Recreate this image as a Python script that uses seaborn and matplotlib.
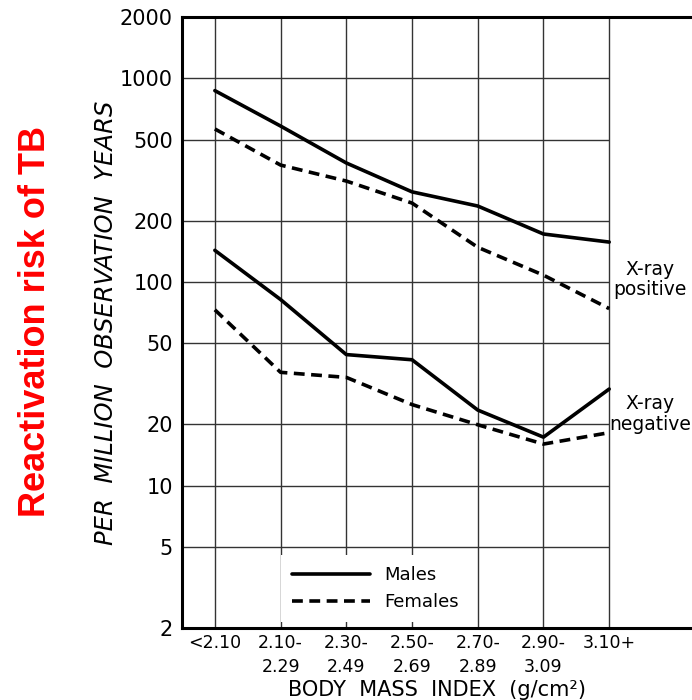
import numpy as np
import pandas as pd
import matplotlib
matplotlib.use("Agg")
import matplotlib.pyplot as plt
import seaborn as sns

# BMI categories (tick labels)
categories = ["<2.10", "2.10-\n2.29", "2.30-\n2.49", "2.50-\n2.69",
              "2.70-\n2.89", "2.90-\n3.09", "3.10+"]

# rates per million observation years
males_pos = [870, 583, 384, 277, 236, 172, 157]
females_pos = [564, 375, 313, 244, 148, 108, 74]
males_neg = [143, 82, 44, 41.5, 23.5, 17.3, 29.8]
females_neg = [73, 36, 34, 25, 19.9, 16, 18.2]

y_ticks = [2, 5, 10, 20, 50, 100, 200, 500, 1000, 2000]


def build_frame():
    rows = []
    series = [
        ("Males", "positive", males_pos),
        ("Females", "positive", females_pos),
        ("Males", "negative", males_neg),
        ("Females", "negative", females_neg),
    ]
    for sex, xray, values in series:
        for i, v in enumerate(values):
            rows.append({"pos": i, "rate": v, "sex": sex, "xray": xray})
    return pd.DataFrame(rows)


df = build_frame()

sns.set_style("white")
plt.rcParams["font.family"] = ["DejaVu Sans"]
plt.rcParams["text.color"] = "black"
plt.rcParams["axes.labelcolor"] = "black"
plt.rcParams["xtick.color"] = "black"
plt.rcParams["ytick.color"] = "black"

fig = plt.figure(figsize=(6.92, 7.00), dpi=100)
ax = fig.add_axes([0.263, 0.1029, 0.737, 0.8728])

ax.set_yscale("log")
ax.set_xlim(-0.5, 7.26)
ax.set_ylim(2, 2000)

# grid drawn by hand: horizontal lines stop at the last category
ax.hlines(y_ticks, -0.5, 6, color="#333333", linewidth=1.0, zorder=1)
ax.vlines(range(len(categories)), 2, 2000, color="#333333",
          linewidth=1.0, zorder=1)

for xray in ["positive", "negative"]:
    sub = df[df["xray"] == xray]
    sns.lineplot(
        data=sub,
        x="pos",
        y="rate",
        style="sex",
        style_order=["Males", "Females"],
        dashes={"Males": "", "Females": (3, 1.8)},
        color="black",
        linewidth=2.6,
        estimator=None,
        legend=(xray == "positive"),
        ax=ax,
        zorder=3,
    )

handles, labels = ax.get_legend_handles_labels()
leg = ax.legend(
    handles,
    labels,
    loc="lower left",
    bbox_to_anchor=(0.177, -0.005),
    frameon=True,
    facecolor="white",
    edgecolor="none",
    framealpha=1,
    fontsize=13,
    handlelength=4.3,
    handletextpad=0.8,
    borderpad=0.6,
    labelspacing=0.5,
    fancybox=False,
)
leg.set_zorder(4)

ax.set_yticks(y_ticks)
ax.set_yticklabels([str(t) for t in y_ticks], fontsize=15)
ax.minorticks_off()
ax.set_xticks(range(len(categories)))
ax.set_xticklabels(categories, fontsize=12.5, va="top", linespacing=1.45)
ax.tick_params(axis="both", length=3, width=1, color="#333333")
ax.tick_params(axis="x", length=0, pad=4)

ax.set_xlabel("BODY  MASS  INDEX  (g/cm\u00b2)", fontsize=15, labelpad=3)
ax.set_ylabel("PER  MILLION  OBSERVATION  YEARS", fontsize=17.5,
              fontstyle="italic", labelpad=4)
ax.yaxis.set_label_coords(-0.125, 0.5)

for side in ["left", "bottom", "top"]:
    ax.spines[side].set_linewidth(2.2)
    ax.spines[side].set_color("black")
ax.spines["right"].set_visible(False)

ax.text(6.62, 103, "X-ray\npositive", fontsize=13.5, ha="center",
        va="center", linespacing=1.1)
ax.text(6.62, 22.5, "X-ray\nnegative", fontsize=13.5, ha="center",
        va="center", linespacing=1.1)

fig.text(0.051, 0.541, "Reactivation risk of TB", rotation=90,
         color="red", fontsize=26, fontweight="bold",
         family=["Liberation Sans", "DejaVu Sans"],
         ha="center", va="center")

fig.savefig("out.png", dpi=100)
plt.close(fig)
